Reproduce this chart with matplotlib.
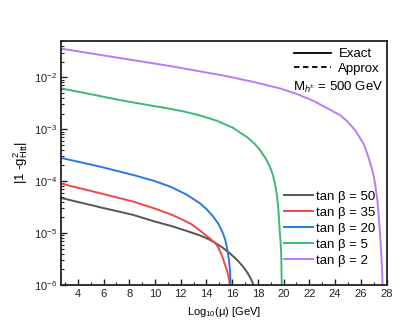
import matplotlib
matplotlib.use("Agg")
import matplotlib.pyplot as plt
from matplotlib.lines import Line2D
from matplotlib.ticker import MultipleLocator, LogLocator, NullFormatter

plt.rcParams['font.family'] = ['Liberation Sans', 'DejaVu Sans']
plt.rcParams['mathtext.fontset'] = 'custom'
plt.rcParams['mathtext.rm'] = 'Liberation Sans'
plt.rcParams['mathtext.it'] = 'Liberation Sans:italic'
plt.rcParams['mathtext.bf'] = 'Liberation Sans:bold'

# ---- data ----
labels = ['tan \u03b2 = 50', 'tan \u03b2 = 35', 'tan \u03b2 = 20',
          'tan \u03b2 = 5', 'tan \u03b2 = 2']
colors = ['#555555', '#f04848', '#2a78e4', '#3cb878', '#b87cfa']

x_tb50 = [2.7, 5.73, 8.32, 10.0, 11.24, 12.4, 13.49, 14.1, 14.65, 15.25, 15.81,
          16.35, 16.85, 17.2, 17.50, 17.65, 17.72, 17.80]
y_tb50 = [4.74e-5, 3.14e-5, 2.23e-5, 1.66e-5, 1.37e-5, 1.11e-5, 9.0e-6, 7.76e-6, 6.53e-6, 5.25e-6, 4.08e-6,
          3.1e-6, 2.25e-6, 1.7e-6, 1.25e-6, 1.0e-6, 8e-7, 1e-9]

x_tb35 = [2.7, 5.73, 8.32, 10.0, 11.24, 12.0, 12.79, 13.3, 13.82, 14.25, 14.65, 14.9,
          15.11, 15.28, 15.42, 15.57, 15.69, 15.78, 15.82, 15.85]
y_tb35 = [8.95e-5, 5.85e-5, 4.03e-5, 2.95e-5, 2.28e-5, 1.88e-5, 1.50e-5, 1.22e-5, 9.6e-6, 7.9e-6, 6.53e-6, 5.4e-6,
          4.14e-6, 3.3e-6, 2.54e-6, 2.0e-6, 1.56e-6, 1.2e-6, 8e-7, 1e-9]

x_tb20 = [2.7, 5.73, 8.32, 10.0, 11.24, 12.4, 13.49, 14.0, 14.53, 14.95, 15.31, 15.5,
          15.63, 15.74, 15.83, 15.87, 15.89, 15.91]
y_tb20 = [2.80e-4, 1.90e-4, 1.31e-4, 1.0e-4, 7.72e-5, 5.6e-5, 3.75e-5, 2.9e-5, 2.07e-5, 1.48e-5, 9.6e-6, 6.8e-6,
          4.7e-6, 3.2e-6, 1.95e-6, 1.2e-6, 7e-7, 1e-9]

x_tb5 = [2.7, 5.0, 7.28, 9.2, 10.91, 12.2, 13.50, 14.8, 16.08, 17.2, 17.7, 18.16, 18.6, 18.93,
         19.15, 19.32, 19.46, 19.58, 19.71, 19.76, 19.80, 19.83, 19.85, 19.86, 19.87]
y_tb5 = [6.11e-3, 4.73e-3, 3.64e-3, 3.0e-3, 2.54e-3, 2.21e-3, 1.84e-3, 1.46e-3, 1.06e-3, 6.9e-4, 5.4e-4, 3.99e-4, 2.75e-4, 1.90e-4,
         1.35e-4, 9.2e-5, 5.75e-5, 3.23e-5, 1.0e-5, 7e-6, 4.7e-6, 2.5e-6, 1.2e-6, 7e-7, 1e-9]

x_tb2 = [2.7, 7.0, 11.24, 15.5, 17.7, 19.78, 21.0, 22.37, 23.7, 24.4, 24.96, 25.6, 26.25, 26.5, 26.77,
         27.0, 27.16, 27.3, 27.42, 27.49, 27.55, 27.6, 27.65, 27.68, 27.70, 27.72]
y_tb2 = [3.57e-2, 2.41e-2, 1.64e-2, 1.06e-2, 8.1e-3, 6.05e-3, 4.8e-3, 3.47e-3, 2.3e-3, 1.86e-3, 1.41e-3, 9.3e-4, 5.05e-4, 3.4e-4, 2.08e-4,
         1.26e-4, 7.4e-5, 4.0e-5, 1.71e-5, 1.0e-5, 5.97e-6, 3.5e-6, 2.0e-6, 1.2e-6, 7e-7, 1e-9]

series_x = [x_tb50, x_tb35, x_tb20, x_tb5, x_tb2]
series_y = [y_tb50, y_tb35, y_tb20, y_tb5, y_tb2]

xticks = [4, 6, 8, 10, 12, 14, 16, 18, 20, 22, 24, 26, 28]

fig = plt.figure(figsize=(4.07, 3.26), dpi=100)
ax = fig.add_axes([0.150, 0.126, 0.7997, 0.7494])

handles = []
for xs, ys, c, lab in zip(series_x, series_y, colors, labels):
    h, = ax.plot(xs, ys, color=c, lw=1.4, label=lab)
    handles.append(h)

ax.set_yscale('log')
ax.set_xlim(2.7, 28.0)
ax.set_ylim(1e-6, 5.09e-2)

ax.set_xticks(xticks)
ax.xaxis.set_minor_locator(MultipleLocator(1))
ax.yaxis.set_major_locator(LogLocator(base=10, numticks=20))
ax.yaxis.set_minor_locator(LogLocator(base=10, subs=range(2, 10), numticks=20))
ax.yaxis.set_minor_formatter(NullFormatter())

ax.tick_params(which='both', direction='in', top=False, right=False, labelsize=8, colors='#222222')
ax.tick_params(which='major', length=4.5, width=1.0, pad=3)
ax.tick_params(which='minor', length=2.5, width=0.8)
for s in ax.spines.values():
    s.set_linewidth(1.3)
    s.set_color('#222222')

ax.set_xlabel('Log$_{10}$(\u03bc) [GeV]', fontsize=8.0, labelpad=4)
ax.set_ylabel('|1 -g$^{2}_{\\mathrm{Htt}}$|', fontsize=9.5, labelpad=3)

# legend for Exact / Approx
lh = [Line2D([], [], color='black', lw=1.3, ls='-'),
      Line2D([], [], color='black', lw=1.3, ls=(0, (3, 2)))]
leg1 = ax.legend(lh, ['Exact', 'Approx'], loc='upper right', frameon=False,
                 fontsize=9.5, handlelength=2.85, handletextpad=0.55,
                 labelspacing=0.2, borderaxespad=0.0, borderpad=0.0,
                 bbox_to_anchor=(0.98, 0.97))
ax.add_artist(leg1)
ax.text(0.989, 0.807, 'M$_{h^{\\pm}}$ = 500 GeV', transform=ax.transAxes,
        ha='right', va='center', fontsize=9.5)

leg2 = ax.legend(handles=handles, loc='lower right', frameon=False,
                 fontsize=9.5, handlelength=2.2, handletextpad=0.2,
                 labelspacing=0.28, borderaxespad=0.0, borderpad=0.0,
                 bbox_to_anchor=(0.965, 0.075))

fig.savefig('out.png', dpi=100)
